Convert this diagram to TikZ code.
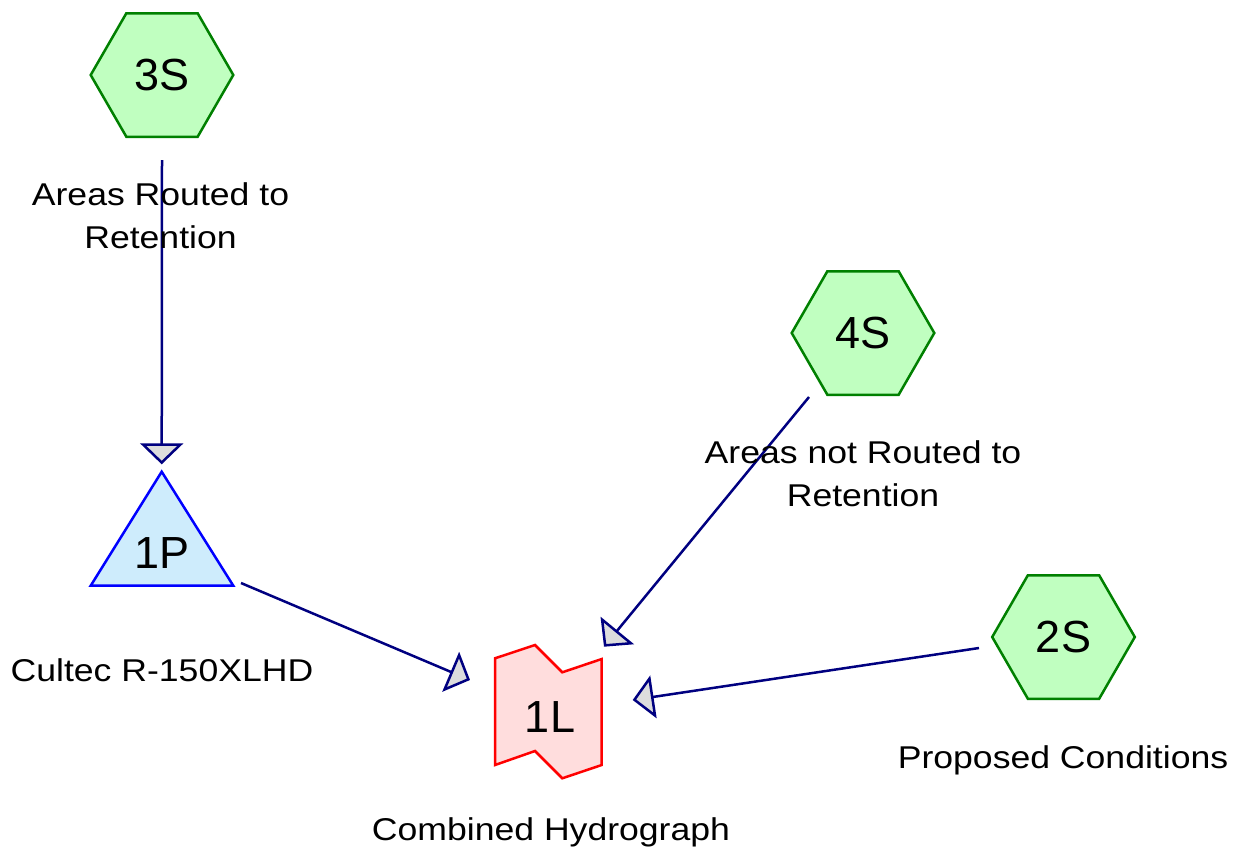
\documentclass[tikz,border=0pt]{standalone}
\usepackage{fontspec}
\setmainfont{Liberation Sans}
\newfontfamily\capfont[FakeStretch=1.13]{Liberation Sans}
\usetikzlibrary{shapes.geometric,arrows.meta,calc}
\definecolor{hexfill}{RGB}{192,255,192}
\definecolor{hexdraw}{RGB}{0,128,0}
\definecolor{pondfill}{RGB}{206,236,252}
\definecolor{ponddraw}{RGB}{0,0,255}
\definecolor{linkfill}{RGB}{255,221,221}
\definecolor{linkdraw}{RGB}{255,0,0}
\definecolor{flowdraw}{RGB}{0,0,128}
\definecolor{tipfill}{RGB}{221,221,221}
\begin{document}
\begin{tikzpicture}[x=1pt,y=-1pt,
  hexa/.style={regular polygon, regular polygon sides=6, minimum size=142.6pt,
    inner sep=0pt, draw=hexdraw, fill=hexfill, line width=2.5pt,
    font=\fontsize{45}{54}\selectfont},
  idtext/.style={inner sep=0pt, font=\fontsize{45}{54}\selectfont},
  pondshape/.style={draw=ponddraw, fill=pondfill, line width=2.5pt, line join=miter},
  linkshape/.style={draw=linkdraw, fill=linkfill, line width=2.5pt, line join=miter},
  caption/.style={inner sep=0pt, anchor=base, align=center,
    font=\capfont\fontsize{31.5}{43}\selectfont},
  flow/.style={draw=flowdraw, line width=2.5pt,
    -{Triangle[length=21pt,width=43pt,fill=tipfill]}},
]
\useasboundingbox (0,0) rectangle (1239,854);

% subcatchments
\node[hexa] (3S) at (162,75) {3S};
\node[hexa] (4S) at (863,333) {4S};
\node[hexa] (2S) at (1063.5,637) {2S};

% pond 1P
\coordinate (1Pc) at (161.7,553);
\coordinate (1Ptop) at ($(1Pc)+(0,-81.3)$);
\coordinate (1Pleft) at ($(1Pc)+(-71,32.7)$);
\coordinate (1Pright) at ($(1Pc)+(71.6,32.7)$);
\draw[pondshape] (1Ptop) -- (1Pright) -- (1Pleft) -- cycle;
\node[idtext] (1P) at (1Pc) {1P};

% link 1L
\coordinate (1Lc) at (550,716.7);
\draw[linkshape] ($(1Lc)+(-55,-58.4)$) -- ($(1Lc)+(-15,-71.7)$) -- ($(1Lc)+(12.3,-44.4)$)
  -- ($(1Lc)+(51.7,-57.7)$) -- ($(1Lc)+(51.7,48.3)$) -- ($(1Lc)+(12.3,61.6)$)
  -- ($(1Lc)+(-15,34.3)$) -- ($(1Lc)+(-55,48.3)$) -- cycle;
\node[idtext] (1L) at (1Lc) {1L};

% connectors
\draw[flow] ($(3S.south)+(0,22)$) -- ($(1Ptop)+(0,-7.4)$);
\draw[flow] ($(1Pright)+(7.7,-2.7)$) -- ($(1L)+(-80,-36.7)$);
\draw[flow] ($(4S)+(-54,64)$) -- ($(1L)+(54,-70)$);
\draw[flow] ($(2S)+(-84.5,11)$) -- ($(1L)+(82.7,-16.7)$);

% captions
\node[caption] (c3S) at (160.5,248) {Areas Routed to\\Retention};
\node[caption] (c4S) at (863,506) {Areas not Routed to\\Retention};
\node[caption] (c1P) at (162,681) {Cultec R-150XLHD};
\node[caption] (c1L) at (551,840) {Combined Hydrograph};
\node[caption] (c2S) at (1063,768) {Proposed Conditions};
\end{tikzpicture}
\end{document}
